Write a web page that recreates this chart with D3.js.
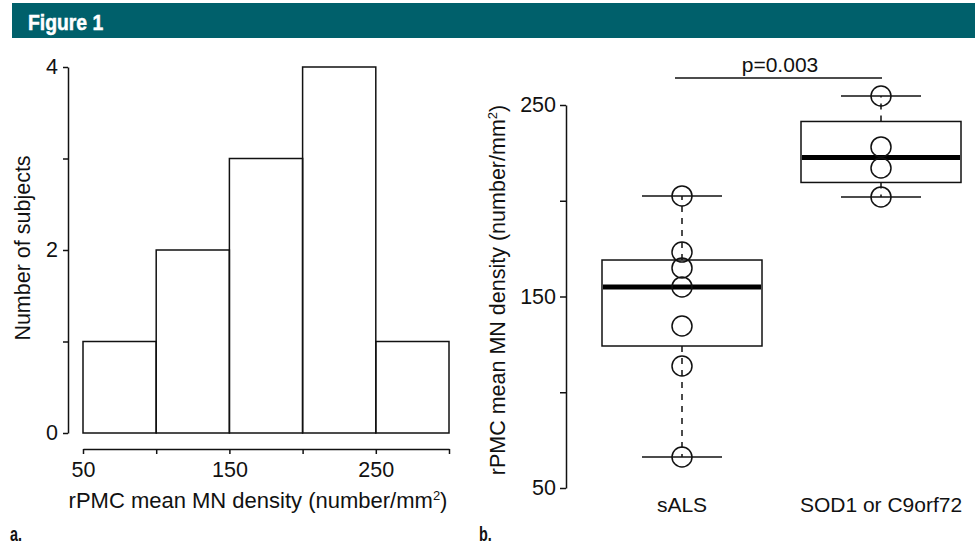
<!DOCTYPE html>
<html>
<head>
<meta charset="utf-8">
<script src="https://cdn.jsdelivr.net/npm/d3@7"></script>
<style>
    body { margin: 0; background: #fff; }
    svg { display: block; }
    text { font-family: "Liberation Sans", Arial, Helvetica, sans-serif; fill: #111; }
    .cond { font-family: "Liberation Sans", Arial, sans-serif; font-weight: bold; }
</style>
</head>
<body>
<svg id="fig" width="975" height="547"></svg>
<script>
// Panel a: histogram
const binEdges = [50, 100, 150, 200, 250, 300];
const binCounts = [1, 2, 3, 4, 1];
const histXTicks = [50, 100, 150, 200, 250, 300];
const histXLabels = ["50", "", "150", "", "250", ""];
const histYTicks = [0, 1, 2, 3, 4];
const histYLabels = ["0", "", "2", "", "4"];

// Panel b: boxplot
const groups = ["sALS", "SOD1 or C9orf72"];
const salsValues = [202.5, 173.2, 164.9, 155.0, 134.6, 113.7, 66.2];
const sodValues = [254.7, 228.1, 217.1, 202.0];
const boxYTicks = [50, 100, 150, 200, 250];
const boxYLabels = ["50", "", "150", "", "250"];
const pLabel = "p=0.003";

const svg = d3.select("#fig");
const ink = "#111";

// Cabecera
svg.append("rect")
    .attr("x", 12).attr("y", 3)
    .attr("width", 963).attr("height", 35)
    .attr("fill", "#00606b");
svg.append("text")
    .attr("class", "cond")
    .attr("transform", "translate(28,30) scale(0.9,1)")
    .style("font-size", "21.5px")
    .style("fill", "#fff")
    .style("stroke", "#fff")
    .style("stroke-width", 0.5)
    .text("Figure 1");

// ---------- Panel a ----------
const xh = d3.scaleLinear().domain([50, 300]).range([83, 449]);
const yh = d3.scaleLinear().domain([0, 4]).range([433, 67]);

const histData = binCounts.map((c, i) => ({ x0: binEdges[i], x1: binEdges[i + 1], count: c }));

const gA = svg.append("g");

gA.selectAll(".bar")
    .data(histData)
    .enter()
    .append("rect")
    .attr("class", "bar")
    .attr("x", d => xh(d.x0))
    .attr("width", d => xh(d.x1) - xh(d.x0))
    .attr("y", d => yh(d.count))
    .attr("height", d => yh(0) - yh(d.count))
    .attr("fill", "none")
    .attr("stroke", ink)
    .attr("stroke-width", 1.5);

const axA_y = gA.append("g")
    .attr("transform", "translate(68,0)")
    .call(d3.axisLeft(yh).tickValues(histYTicks)
        .tickFormat((d, i) => histYLabels[i])
        .tickSize(5).tickSizeOuter(0).tickPadding(5));

const axA_x = gA.append("g")
    .attr("transform", "translate(0,449)")
    .call(d3.axisBottom(xh).tickValues(histXTicks)
        .tickFormat((d, i) => histXLabels[i])
        .tickSize(5).tickSizeOuter(0).tickPadding(8));

gA.append("text")
    .attr("transform", "translate(30,248) rotate(-90)")
    .attr("text-anchor", "middle")
    .style("font-size", "21.5px")
    .text("Number of subjects");

const xTitleA = gA.append("text")
    .attr("x", 258).attr("y", 508)
    .attr("text-anchor", "middle")
    .style("font-size", "22px");
xTitleA.append("tspan").text("rPMC mean MN density (number/mm");
xTitleA.append("tspan").attr("dy", -8).style("font-size", "13px").text("2");
xTitleA.append("tspan").attr("dy", 8).text(")");

// ---------- Panel b ----------
const yb = d3.scaleLinear().domain([50, 250]).range([488, 105]);
const xb = d3.scalePoint().domain(groups).range([682, 881]);
const boxW = 160, capW = 80;

// cuartiles tipo fivenum
function fivenum(vals) {
    const x = vals.slice().sort((a, b) => a - b);
    const n = x.length;
    const n4 = Math.floor((n + 3) / 2) / 2;
    const d = [1, n4, (n + 1) / 2, n + 1 - n4, n];
    return d.map(p => 0.5 * (x[Math.floor(p) - 1] + x[Math.ceil(p) - 1]));
}

const boxData = [salsValues, sodValues].map((vals, i) => {
    const f = fivenum(vals);
    const iqr = f[3] - f[1];
    const inside = vals.filter(v => v >= f[1] - 1.5 * iqr && v <= f[3] + 1.5 * iqr);
    return { group: groups[i], vals: vals, q1: f[1], med: f[2], q3: f[3], lo: d3.min(inside), hi: d3.max(inside) };
});

const gB = svg.append("g");

const boxes = gB.selectAll(".box")
    .data(boxData)
    .enter()
    .append("g")
    .attr("class", "box");

// bigotes
boxes.append("line")
    .attr("x1", d => xb(d.group)).attr("x2", d => xb(d.group))
    .attr("y1", d => yb(d.q3)).attr("y2", d => yb(d.hi))
    .attr("stroke", ink).attr("stroke-width", 1.5).attr("stroke-dasharray", "6,6");
boxes.append("line")
    .attr("x1", d => xb(d.group)).attr("x2", d => xb(d.group))
    .attr("y1", d => yb(d.q1)).attr("y2", d => yb(d.lo))
    .attr("stroke", ink).attr("stroke-width", 1.5).attr("stroke-dasharray", "6,6");
boxes.append("line")
    .attr("x1", d => xb(d.group) - capW / 2).attr("x2", d => xb(d.group) + capW / 2)
    .attr("y1", d => yb(d.hi)).attr("y2", d => yb(d.hi))
    .attr("stroke", ink).attr("stroke-width", 1.5);
boxes.append("line")
    .attr("x1", d => xb(d.group) - capW / 2).attr("x2", d => xb(d.group) + capW / 2)
    .attr("y1", d => yb(d.lo)).attr("y2", d => yb(d.lo))
    .attr("stroke", ink).attr("stroke-width", 1.5);

// caja
boxes.append("rect")
    .attr("x", d => xb(d.group) - boxW / 2)
    .attr("width", boxW)
    .attr("y", d => yb(d.q3))
    .attr("height", d => yb(d.q1) - yb(d.q3))
    .attr("fill", "none")
    .attr("stroke", ink).attr("stroke-width", 1.5);

// mediana
boxes.append("line")
    .attr("x1", d => xb(d.group) - boxW / 2 + 1).attr("x2", d => xb(d.group) + boxW / 2 - 1)
    .attr("y1", d => yb(d.med)).attr("y2", d => yb(d.med))
    .attr("stroke", "#000").attr("stroke-width", 5);

// puntos
boxes.selectAll("circle")
    .data(d => d.vals.map(v => ({ group: d.group, v: v })))
    .enter()
    .append("circle")
    .attr("cx", d => xb(d.group))
    .attr("cy", d => yb(d.v))
    .attr("r", 10)
    .attr("fill", "none")
    .attr("stroke", ink).attr("stroke-width", 1.5);

const axB_y = gB.append("g")
    .attr("transform", "translate(566,0)")
    .call(d3.axisLeft(yb).tickValues(boxYTicks)
        .tickFormat((d, i) => boxYLabels[i])
        .tickSize(6).tickSizeOuter(0).tickPadding(4));

gB.selectAll(".group-label")
    .data(groups)
    .enter()
    .append("text")
    .attr("class", "group-label")
    .attr("x", d => xb(d))
    .attr("y", 512)
    .attr("text-anchor", "middle")
    .style("font-size", "21px")
    .text(d => d);

const yTitleB = gB.append("text")
    .attr("transform", "translate(505,290) rotate(-90)")
    .attr("text-anchor", "middle")
    .style("font-size", "21.5px");
yTitleB.append("tspan").text("rPMC mean MN density (number/mm");
yTitleB.append("tspan").attr("dy", -8).style("font-size", "13px").text("2");
yTitleB.append("tspan").attr("dy", 8).text(")");

// p-valor
gB.append("line")
    .attr("x1", 675).attr("x2", 882)
    .attr("y1", 78).attr("y2", 78)
    .attr("stroke", ink).attr("stroke-width", 1.5);
gB.append("text")
    .attr("x", 780).attr("y", 72)
    .attr("text-anchor", "middle")
    .style("font-size", "21px")
    .text(pLabel);

// estilos de ejes
[axA_y, axA_x, axB_y].forEach(ax => {
    ax.select(".domain").attr("stroke", ink).attr("stroke-width", 1.5);
    ax.selectAll(".tick line").attr("stroke", ink).attr("stroke-width", 1.5);
    ax.selectAll(".tick text")
        .style("font-size", "21.5px")
        .style("font-family", "'Liberation Sans', Arial, sans-serif")
        .attr("fill", ink);
});

// etiquetas de panel
svg.append("text").attr("class", "cond")
    .attr("transform", "translate(10,541) scale(0.72,1)")
    .style("font-size", "20px")
    .text("a.");
svg.append("text").attr("class", "cond")
    .attr("transform", "translate(479,541) scale(0.72,1)")
    .style("font-size", "20px")
    .text("b.");
</script>
</body>
</html>
